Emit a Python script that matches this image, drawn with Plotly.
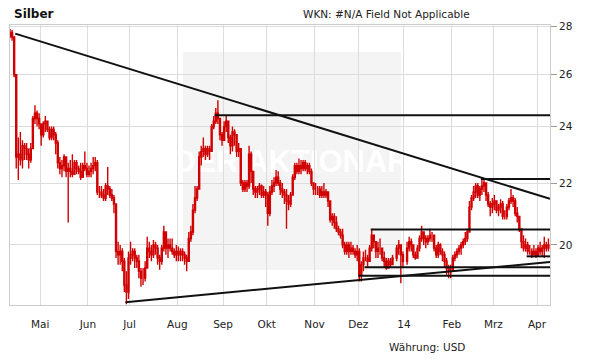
import base64
import math
import pandas as pd
import plotly.graph_objects as go

# ---------------- data (USD per ounce, daily) ----------------
first_open = 27.60

close_apr13 = [27.75, 27.55, 26.00, 22.90, 23.00, 22.80, 23.30, 23.20, 23.00, 22.80, 23.20, 24.30, 24.50, 24.30, 24.10]
high_apr13 = [27.90, 27.85, 27.60, 26.00, 23.60, 23.80, 23.50, 23.40, 23.40, 23.20, 23.40, 24.40, 24.80, 24.60, 24.50]
low_apr13 = [27.50, 27.40, 25.90, 22.50, 22.10, 22.60, 22.50, 22.80, 22.80, 22.50, 22.70, 23.20, 24.10, 24.00, 23.90]

close_may13 = [23.70, 24.10, 24.20, 23.90, 23.60, 23.90, 23.70, 23.40, 22.70, 22.50, 22.60, 22.90, 22.40, 22.50, 22.40, 22.30, 22.70, 22.50, 22.40, 22.20, 22.60, 22.50, 22.30]
high_may13 = [24.10, 24.20, 24.40, 24.20, 24.00, 24.00, 24.00, 23.80, 23.50, 22.90, 22.80, 23.00, 22.90, 22.70, 22.80, 23.00, 22.80, 22.80, 22.60, 22.70, 22.70, 23.10, 22.70]
low_may13 = [23.30, 23.60, 23.80, 23.80, 23.50, 23.50, 23.50, 23.00, 22.50, 22.30, 22.20, 22.40, 22.20, 20.70, 22.20, 22.20, 22.30, 22.30, 22.30, 22.10, 22.20, 22.40, 22.20]

close_jun13 = [22.40, 22.50, 22.60, 22.70, 21.70, 21.70, 21.60, 21.50, 21.90, 21.80, 21.60, 21.50, 21.30, 19.80, 19.70, 19.80, 19.50, 18.80, 18.60, 19.60]
high_jun13 = [22.60, 22.70, 22.90, 22.90, 22.80, 21.90, 21.90, 21.80, 22.00, 22.55, 21.90, 21.80, 21.60, 21.30, 20.10, 20.00, 19.90, 19.60, 19.20, 19.80]
low_jun13 = [22.20, 22.20, 22.30, 22.40, 21.60, 21.50, 21.50, 21.40, 21.40, 21.60, 21.50, 21.40, 21.00, 19.60, 19.40, 19.40, 19.20, 18.60, 18.25, 18.40]

close_jul13 = [19.70, 19.80, 19.60, 19.50, 19.20, 19.00, 19.00, 19.30, 19.90, 19.80, 19.70, 20.00, 19.90, 19.60, 19.50, 19.90, 20.40, 19.90, 20.00, 19.90, 19.80, 19.70, 19.80]
high_jul13 = [20.10, 19.90, 19.90, 19.70, 19.70, 19.30, 19.30, 19.50, 20.25, 20.10, 20.00, 20.15, 20.10, 20.00, 19.70, 20.00, 20.60, 20.40, 20.20, 20.20, 20.20, 19.90, 20.00]
low_jul13 = [19.40, 19.50, 19.30, 19.30, 19.00, 18.75, 18.80, 18.90, 19.30, 19.60, 19.50, 19.60, 19.70, 19.40, 19.25, 19.40, 19.80, 19.70, 19.60, 19.80, 19.70, 19.60, 19.50]

close_aug13 = [19.70, 19.80, 19.70, 19.60, 19.50, 20.20, 20.40, 21.10, 21.50, 21.80, 22.90, 23.10, 23.20, 23.00, 23.20, 23.10, 24.00, 24.20, 24.50, 24.30, 23.70, 23.50]
high_aug13 = [19.95, 19.90, 19.90, 19.80, 19.70, 20.40, 20.60, 21.30, 21.90, 21.90, 23.10, 23.30, 23.60, 23.30, 23.30, 23.30, 24.10, 24.40, 24.70, 25.00, 24.30, 23.80]
low_aug13 = [19.50, 19.50, 19.50, 19.40, 19.20, 19.50, 20.10, 20.30, 21.00, 21.40, 21.80, 22.60, 22.90, 22.80, 22.90, 22.80, 23.10, 23.90, 24.10, 24.10, 23.50, 23.30]

close_sep13 = [24.00, 24.20, 23.60, 23.30, 23.80, 23.70, 23.10, 23.20, 22.00, 21.80, 22.00, 21.90, 23.00, 22.40, 21.80, 21.70, 21.80, 21.90, 21.60, 21.70, 21.60]
high_sep13 = [24.20, 24.40, 24.10, 23.70, 24.00, 23.90, 23.60, 23.40, 23.10, 22.10, 22.10, 22.10, 23.30, 23.10, 22.30, 21.90, 21.90, 22.00, 21.95, 21.90, 21.80]
low_sep13 = [23.60, 23.80, 23.40, 23.00, 23.10, 23.30, 22.90, 22.90, 21.90, 21.70, 21.70, 21.70, 21.80, 22.00, 21.60, 21.50, 21.50, 21.60, 21.50, 21.50, 21.20]

close_oct13 = [21.00, 21.70, 21.90, 22.00, 22.20, 22.00, 21.80, 21.70, 21.60, 21.40, 21.30, 21.60, 22.20, 22.60, 22.40, 22.60, 22.50, 22.70, 22.50, 22.60, 22.40, 22.00, 21.80]
high_oct13 = [21.70, 21.90, 22.10, 22.20, 22.45, 22.40, 22.10, 22.00, 21.80, 21.80, 21.60, 21.70, 22.30, 22.70, 22.70, 22.85, 22.80, 22.80, 22.80, 22.70, 22.70, 22.50, 22.00]
low_oct13 = [20.60, 20.90, 21.60, 21.70, 21.90, 21.90, 21.60, 21.50, 21.30, 20.50, 21.10, 21.20, 21.60, 22.10, 22.30, 22.30, 22.30, 22.40, 22.40, 22.30, 22.30, 21.90, 21.60]

close_nov13 = [21.80, 21.80, 21.60, 21.70, 21.60, 21.70, 21.40, 20.80, 20.90, 20.70, 20.50, 20.40, 20.30, 20.00, 19.80, 20.00, 19.80, 19.90, 19.80, 19.70, 19.80]
high_nov13 = [22.00, 21.90, 21.90, 21.90, 22.00, 21.80, 21.70, 21.40, 21.00, 21.00, 20.90, 20.60, 20.50, 20.50, 20.10, 20.10, 20.10, 20.10, 20.00, 19.90, 20.00]
low_nov13 = [21.60, 21.60, 21.50, 21.50, 21.50, 21.50, 21.20, 20.70, 20.60, 20.50, 20.40, 20.30, 20.20, 19.90, 19.70, 19.70, 19.60, 19.70, 19.70, 19.60, 19.50]

close_dec13 = [19.10, 19.40, 19.60, 19.60, 19.50, 19.90, 20.30, 20.10, 19.80, 19.90, 19.90, 19.60, 19.50, 19.30, 19.50, 19.40, 19.60, 19.90, 20.00, 19.70, 19.50]
high_dec13 = [19.90, 19.50, 19.80, 19.85, 19.70, 20.00, 20.48, 20.30, 20.10, 20.10, 20.20, 19.90, 19.80, 19.60, 19.60, 19.60, 19.70, 20.00, 20.15, 20.00, 19.80]
low_dec13 = [18.90, 18.90, 19.20, 19.50, 19.30, 19.50, 19.80, 19.90, 19.60, 19.60, 19.70, 19.50, 19.30, 19.25, 19.30, 19.30, 19.40, 19.50, 19.70, 18.85, 19.30]

close_jan14 = [19.90, 20.10, 20.00, 19.70, 19.60, 19.90, 20.20, 20.40, 20.20, 20.10, 20.20, 20.30, 20.30, 19.90, 19.70, 20.00, 19.80, 19.70, 19.50, 19.30, 19.20, 19.20]
high_jan14 = [20.10, 20.25, 20.20, 20.00, 19.80, 20.00, 20.30, 20.60, 20.40, 20.30, 20.30, 20.50, 20.40, 20.30, 20.00, 20.10, 20.05, 19.90, 19.80, 19.60, 19.40, 19.40]
low_jan14 = [19.40, 19.80, 19.80, 19.60, 19.55, 19.60, 19.80, 20.10, 20.00, 19.90, 20.00, 20.10, 20.10, 19.80, 19.60, 19.60, 19.70, 19.50, 19.30, 19.10, 19.00, 19.00]

close_feb14 = [19.60, 19.70, 19.80, 19.90, 20.00, 20.10, 20.20, 20.40, 21.20, 21.50, 21.70, 21.90, 21.60, 21.80, 21.90, 22.00, 21.60, 21.30, 21.20, 21.30]
high_feb14 = [19.70, 19.80, 19.90, 20.00, 20.10, 20.20, 20.40, 20.50, 21.40, 21.60, 21.90, 22.00, 22.00, 21.90, 22.20, 22.15, 22.00, 21.70, 21.40, 21.50]
low_feb14 = [19.20, 19.50, 19.60, 19.70, 19.70, 19.90, 20.00, 20.10, 20.40, 21.10, 21.40, 21.50, 21.50, 21.40, 21.60, 21.70, 21.40, 21.20, 20.90, 21.00]

close_mar14 = [21.40, 21.10, 21.20, 21.30, 20.90, 20.90, 21.20, 21.40, 21.50, 21.40, 21.00, 20.90, 20.50, 20.10, 19.90, 20.00, 19.80, 19.80, 19.70, 19.80, 19.70]
high_mar14 = [21.60, 21.40, 21.30, 21.46, 21.40, 21.10, 21.30, 21.50, 21.80, 21.60, 21.50, 21.20, 20.90, 20.50, 20.30, 20.20, 20.10, 20.00, 19.90, 20.00, 19.90]
low_mar14 = [21.10, 21.00, 20.90, 21.00, 20.80, 20.80, 20.80, 21.10, 21.30, 21.20, 20.90, 20.70, 20.40, 19.90, 19.80, 19.80, 19.70, 19.70, 19.60, 19.70, 19.60]

close_apr14 = [19.90, 19.80, 19.90, 20.00, 19.90, 20.00]
high_apr14 = [20.00, 20.10, 20.00, 20.25, 20.10, 20.20]
low_apr14 = [19.65, 19.70, 19.65, 19.60, 19.80, 19.80]

first_day = "2013-04-10"
last_day = "2014-04-08"
holidays = ["2013-12-25", "2014-01-01"]

# trend lines
resist_dates = ["2013-04-15", "2014-04-09 06:00"]
resist_prices = [27.70, 21.47]
support_dates = ["2013-06-27", "2014-04-09 06:00"]
support_prices = [18.31, 19.48]
hline_starts = ["2013-08-27", "2014-02-21", "2013-12-10", "2013-12-05", "2013-12-02", "2014-03-25"]
hline_levels = [24.42, 22.14, 20.48, 19.32, 19.07, 19.65]
hline_end = "2014-04-09 06:00"

# month ticks sit on the first trading day of each month
month_ticks = ["2013-05-01", "2013-06-03", "2013-07-01", "2013-08-01", "2013-09-02", "2013-10-01",
               "2013-11-01", "2013-12-02", "2014-01-01", "2014-02-03", "2014-03-03", "2014-04-01"]
month_labels = ["Mai", "Jun", "Jul", "Aug", "Sep", "Okt", "Nov", "Dez", "14", "Feb", "Mrz", "Apr"]
price_ticks = [20, 22, 24, 26, 28]

# ---------------- assemble ----------------
close = (close_apr13 + close_may13 + close_jun13 + close_jul13 + close_aug13 + close_sep13 + close_oct13
         + close_nov13 + close_dec13 + close_jan14 + close_feb14 + close_mar14 + close_apr14)
high = (high_apr13 + high_may13 + high_jun13 + high_jul13 + high_aug13 + high_sep13 + high_oct13
        + high_nov13 + high_dec13 + high_jan14 + high_feb14 + high_mar14 + high_apr14)
low = (low_apr13 + low_may13 + low_jun13 + low_jul13 + low_aug13 + low_sep13 + low_oct13
       + low_nov13 + low_dec13 + low_jan14 + low_feb14 + low_mar14 + low_apr14)
opens = [first_open] + close[:-1]
high = [max(h, o, c) for h, o, c in zip(high, opens, close)]
low = [min(l, o, c) for l, o, c in zip(low, opens, close)]

days = pd.bdate_range(first_day, last_day)
days = days[~days.isin(pd.to_datetime(holidays))]
n = min(len(days), len(close))
xdays = (days[:n] + pd.Timedelta(hours=12))

RED = "#d00000"

fig = go.Figure()
fig.add_trace(go.Candlestick(
    x=xdays, open=opens[:n], high=high[:n], low=low[:n], close=close[:n],
    increasing=dict(line=dict(color=RED, width=1.4), fillcolor="#ffffff"),
    decreasing=dict(line=dict(color=RED, width=1.4), fillcolor=RED),
    whiskerwidth=0, showlegend=False, hoverinfo="skip",
))

line_style = dict(color="#111111", width=2)
fig.add_trace(go.Scatter(x=resist_dates, y=resist_prices, mode="lines", line=line_style,
                         showlegend=False, hoverinfo="skip"))
fig.add_trace(go.Scatter(x=support_dates, y=support_prices, mode="lines", line=line_style,
                         showlegend=False, hoverinfo="skip"))
for s, lv in zip(hline_starts, hline_levels):
    fig.add_trace(go.Scatter(x=[s, hline_end], y=[lv, lv], mode="lines", line=line_style,
                             showlegend=False, hoverinfo="skip"))

# page geometry: the page body adds an 8px offset around the figure div
OFF = 8
W, H = 611 - OFF, 364 - OFF
L, R, T, B = 10, 550, 25, 305          # plot area in page pixels
pw, ph = R - L, B - T

def px(xp):
    return (xp - L) / pw

def py(yp):
    return (B - yp) / ph

# watermark (background panel + faint logo text)
svg = ('<svg xmlns="http://www.w3.org/2000/svg" width="218" height="218" viewBox="0 0 218 218" '
       'preserveAspectRatio="none"><rect width="218" height="218" fill="#f4f4f4"/>'
       '<text x="108.5" y="119.5" text-anchor="middle" font-family="Liberation Sans Narrow, Arial Narrow, sans-serif" '
       'font-weight="bold" font-size="31" fill="#ffffff">DER AKTIONÄR</text></svg>')
src = "data:image/svg+xml;base64," + base64.b64encode(svg.encode("utf-8")).decode()

FONT = "DejaVu Sans"
fig.update_layout(
    width=W, height=H,
    margin=dict(l=L - OFF, r=W - (R - OFF), t=T - OFF, b=H - (B - OFF), pad=0),
    paper_bgcolor="#ffffff", plot_bgcolor="rgba(0,0,0,0)",
    font=dict(family=FONT, size=10.5, color="#222222"),
    images=[dict(source=src, xref="paper", yref="paper", x=px(183), y=py(52),
                 sizex=218 / pw, sizey=218 / ph, xanchor="left", yanchor="top",
                 sizing="stretch", layer="below")],
    xaxis=dict(
        type="date", range=["2013-04-10 12:00", "2014-04-09 06:00"],
        rangebreaks=[dict(bounds=["sat", "mon"])],
        rangeslider=dict(visible=False),
        tickmode="array", tickvals=month_ticks, ticktext=month_labels,
        showgrid=True, gridcolor="#dcdcdc", gridwidth=1,
        showline=True, mirror=True, linecolor="#cccccc", linewidth=1,
        ticks="outside", ticklen=9, tickcolor="rgba(0,0,0,0)",
        tickfont=dict(family=FONT, size=10.5, color="#222222"),
        zeroline=False, fixedrange=True,
    ),
    yaxis=dict(
        type="log", side="right",
        range=[math.log10(18.23), math.log10(28.07)],
        tickmode="array", tickvals=price_ticks, ticktext=[str(v) for v in price_ticks],
        showgrid=True, gridcolor="#dcdcdc", gridwidth=1,
        showline=True, mirror=True, linecolor="#cccccc", linewidth=1,
        ticks="outside", ticklen=6, tickcolor="#999999",
        tickfont=dict(family=FONT, size=10.5, color="#222222"),
        zeroline=False, fixedrange=True,
    ),
    annotations=[
        dict(text="<b>Silber</b>", xref="paper", yref="paper", x=px(12), y=py(14),
             xanchor="left", yanchor="middle", showarrow=False,
             font=dict(family=FONT, size=12, color="#111111")),
        dict(text="WKN: #N/A Field Not Applicable", xref="paper", yref="paper", x=px(386), y=py(14),
             xanchor="center", yanchor="middle", showarrow=False,
             font=dict(family=FONT, size=10.5, color="#222222")),
        dict(text="Währung: USD", xref="paper", yref="paper", x=px(427), y=py(347),
             xanchor="center", yanchor="middle", showarrow=False,
             font=dict(family=FONT, size=10.5, color="#222222")),
    ],
)

fig.write_html("out.html")
